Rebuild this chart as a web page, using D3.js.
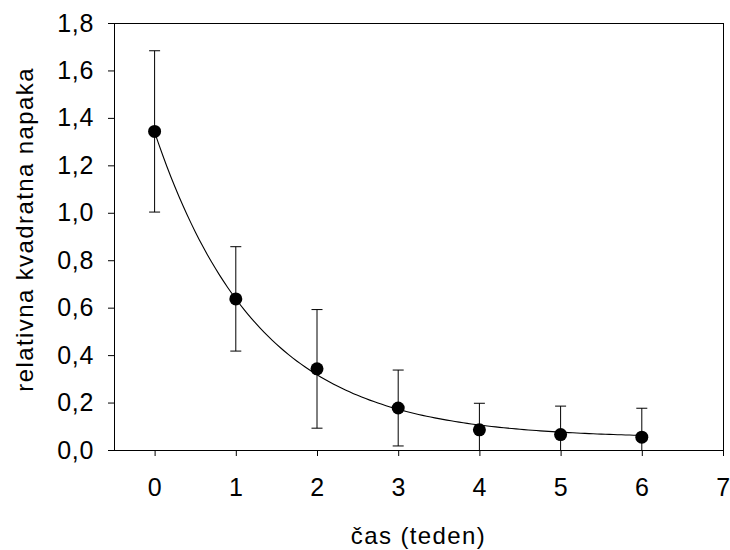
<!DOCTYPE html>
<html lang="sl">
<head>
  <meta charset="UTF-8">
  <title>Relativna kvadratna napaka</title>
  <script src="https://cdnjs.cloudflare.com/ajax/libs/d3/7.6.1/d3.min.js"></script>
  <style>
    body { margin: 0; background: #fff; }
    text { font-family: "Liberation Sans", Arial, sans-serif; fill: #000; }
    .frame { fill: none; stroke: #000; stroke-width: 1px; }
    .title { font-size: 24px; letter-spacing: 1.4px; }
  </style>
</head>
<body>
<div id="wrapper"></div>
<script>
const weeks = [0, 1, 2, 3, 4, 5, 6];
const meanError = [1.343, 0.637, 0.342, 0.177, 0.085, 0.065, 0.054];
const errorBar = [0.34, 0.22, 0.25, 0.16, 0.112, 0.12, 0.122];

// exponential fit y = c + a * exp(-b * x)
const fitA = 1.29;
const fitB = 0.787;
const fitC = 0.05;

const xTicks = [0, 1, 2, 3, 4, 5, 6, 7];
const yTicks = [0, 0.2, 0.4, 0.6, 0.8, 1.0, 1.2, 1.4, 1.6, 1.8];

const dimension = {
  width: 730,
  height: 550,
  margin: { top: 23, right: 7, bottom: 100, left: 114 }
};
dimension.boundedWidth = dimension.width - dimension.margin.left - dimension.margin.right;
dimension.boundedHeight = dimension.height - dimension.margin.top - dimension.margin.bottom;

const svg = d3.select("#wrapper")
  .append("svg")
  .attr("width", dimension.width)
  .attr("height", dimension.height);

const bounds = svg.append("g")
  .attr("transform", `translate(${dimension.margin.left},${dimension.margin.top})`);

const x = d3.scaleLinear().domain([-0.5, 7]).range([0, dimension.boundedWidth]);
const y = d3.scaleLinear().domain([0, 1.8]).range([dimension.boundedHeight, 0]);

const fmt = d => d3.format(".1f")(d).replace(".", ",");

bounds.append("clipPath").attr("id", "plot-clip")
  .append("rect")
  .attr("width", dimension.boundedWidth)
  .attr("height", dimension.boundedHeight);

// axes
const yAxis = bounds.append("g")
  .call(d3.axisLeft(y).tickValues(yTicks).tickFormat(fmt).tickSize(6).tickPadding(14));
const xAxis = bounds.append("g")
  .attr("transform", `translate(0,${dimension.boundedHeight})`)
  .call(d3.axisBottom(x).tickValues(xTicks).tickFormat(d3.format("d")).tickSize(6).tickPadding(22));

[xAxis, yAxis].forEach(a => {
  a.select(".domain").remove();
  a.selectAll("line").attr("stroke", "#000");
  a.selectAll("text").style("font-size", "25px").style("letter-spacing", "0.7px");
});

bounds.append("rect")
  .attr("class", "frame")
  .attr("x", 0.5)
  .attr("y", 0.5)
  .attr("width", dimension.boundedWidth)
  .attr("height", dimension.boundedHeight);

const plot = bounds.append("g").attr("clip-path", "url(#plot-clip)");

// fitted curve
const curveX = d3.range(0, 6.001, 0.05);
plot.append("path")
  .datum(curveX)
  .attr("fill", "none")
  .attr("stroke", "#000")
  .attr("stroke-width", 1.1)
  .attr("d", d3.line()
    .x(d => x(d))
    .y(d => y(fitC + fitA * Math.exp(-fitB * d))));

const data = weeks.map((w, i) => ({ w, m: meanError[i], e: errorBar[i] }));

// error bars
const bars = plot.selectAll(".err")
  .data(data)
  .enter()
  .append("g")
  .attr("class", "err")
  .attr("stroke", "#000")
  .attr("stroke-width", 1);

bars.append("line")
  .attr("x1", d => x(d.w)).attr("x2", d => x(d.w))
  .attr("y1", d => y(d.m + d.e)).attr("y2", d => y(d.m - d.e));
bars.append("line")
  .attr("x1", d => x(d.w) - 5.5).attr("x2", d => x(d.w) + 5.5)
  .attr("y1", d => y(d.m + d.e)).attr("y2", d => y(d.m + d.e));
bars.append("line")
  .attr("x1", d => x(d.w) - 5.5).attr("x2", d => x(d.w) + 5.5)
  .attr("y1", d => y(d.m - d.e)).attr("y2", d => y(d.m - d.e));

// points
bounds.selectAll("circle")
  .data(data)
  .enter()
  .append("circle")
  .attr("cx", d => x(d.w))
  .attr("cy", d => y(d.m))
  .attr("r", 6.5)
  .attr("fill", "#000");

// titles
svg.append("text")
  .attr("class", "title")
  .attr("x", dimension.margin.left + x(3.25))
  .attr("y", 544)
  .attr("text-anchor", "middle")
  .text("čas (teden)");

svg.append("text")
  .attr("class", "title")
  .attr("transform", `translate(33,${dimension.margin.top + y(0.93)}) rotate(-90)`)
  .attr("text-anchor", "middle")
  .text("relativna kvadratna napaka");
</script>
</body>
</html>
